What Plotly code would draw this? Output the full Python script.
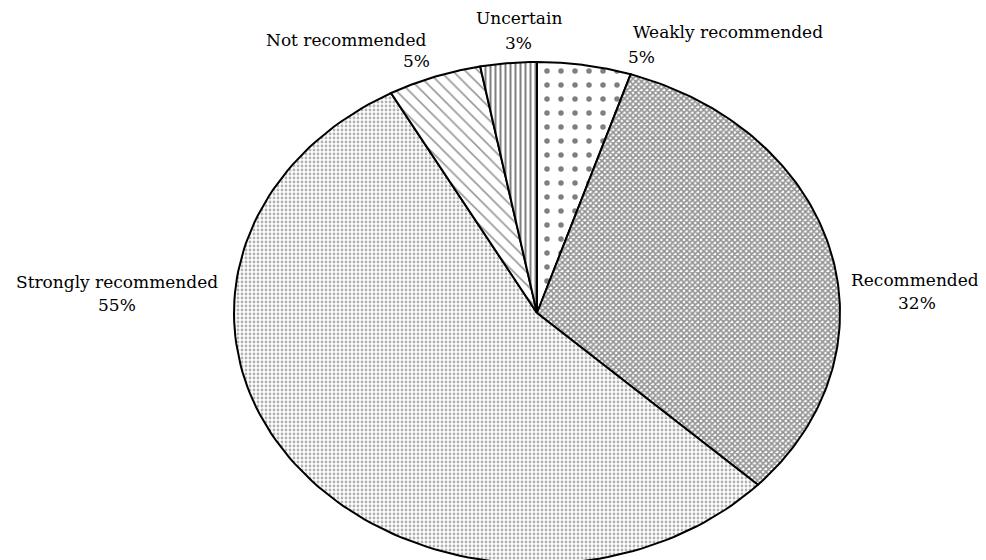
import numpy as np
import plotly.graph_objects as go

# shares, clockwise from 12 o'clock
LABELS = ["Weakly recommended", "Recommended", "Strongly recommended",
          "Not recommended", "Uncertain"]
SHARES = [5, 32, 55, 5, 3]
PCT_TEXT = ["5%", "32%", "55%", "5%", "3%"]

# fill pattern per slice: (shape, size, solidity, fg)
PATTERNS = {
    "Weakly recommended": (".", 14, 0.12, "#000000"),
    "Recommended": ("x", 4, 0.65, "#222222"),
    "Strongly recommended": (".", 4, 0.4, "#666666"),
    "Not recommended": ("\\", 9, 0.18, "#333333"),
    "Uncertain": ("|", 5, 0.4, "#000000"),
}

# label placement in screen pixels: (name x, name y, pct x, pct y)
LABEL_POS = {
    "Weakly recommended": (728, 32, 641, 57),
    "Recommended": (915, 280, 917, 303),
    "Strongly recommended": (117, 282, 117, 305),
    "Not recommended": (346, 40, 416, 61),
    "Uncertain": (519, 18, 518, 43),
}

W, H = 986, 560
OFF = 8                                # page body margin
CX, CY, RX, RY = 537, 313, 303, 251    # ellipse centre / radii on screen, px

fig = go.Figure()
total = float(sum(SHARES))
start = 0.0
for lab, v in zip(LABELS, SHARES):
    a0 = start / total * 2 * np.pi
    a1 = (start + v) / total * 2 * np.pi
    start += v
    th = np.linspace(a0, a1, 120)
    xs = np.concatenate([[0], np.sin(th), [0]])
    ys = np.concatenate([[0], np.cos(th), [0]])
    shp, size, sol, fg = PATTERNS[lab]
    fig.add_trace(go.Scatter(
        x=xs, y=ys, mode="lines", fill="toself",
        fillcolor="white",
        fillpattern=dict(shape=shp, size=size, solidity=sol,
                         fgcolor=fg, bgcolor="white"),
        line=dict(color="black", width=2),
        name=lab, showlegend=False, hoverinfo="skip"))

for lab, pct in zip(LABELS, PCT_TEXT):
    nx, ny, px, py = LABEL_POS[lab]
    for txt, x, y in ((lab, nx, ny), (pct, px, py)):
        fig.add_annotation(x=(x - OFF) / W, y=1 - (y - OFF) / H,
                           xref="paper", yref="paper",
                           xanchor="center", yanchor="middle",
                           text=txt, showarrow=False,
                           font=dict(family="DejaVu Serif", size=17,
                                     color="#000000"))

cx, cy = CX - OFF, CY - OFF
fig.update_layout(
    width=W, height=H,
    margin=dict(l=0, r=0, t=0, b=0),
    plot_bgcolor="white", paper_bgcolor="white",
    xaxis=dict(range=[-cx / RX, (W - cx) / RX], visible=False, fixedrange=True),
    yaxis=dict(range=[-(H - cy) / RY, cy / RY], visible=False, fixedrange=True),
    showlegend=False,
)

fig.write_html("out.html")
